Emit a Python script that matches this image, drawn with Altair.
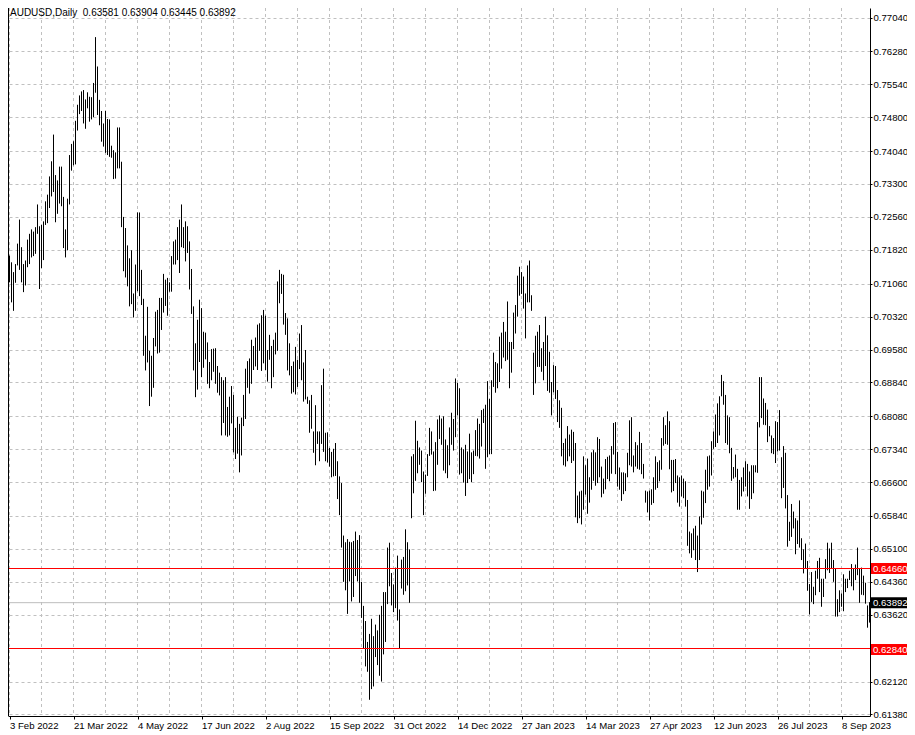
import altair as alt
import pandas as pd

# ---- daily highs / lows (bar 0 = 3 Feb 2022) ----
highs_a = [0.7169, 0.7154, 0.7132, 0.7150, 0.7196, 0.7250, 0.7188, 0.7150, 0.7158, 0.7205,
           0.7218, 0.7228, 0.7223, 0.7233, 0.7284, 0.7235, 0.7238, 0.7246, 0.7291, 0.7306,
           0.7347, 0.7381, 0.7441, 0.7350, 0.7338, 0.7369, 0.7369, 0.7301, 0.7228, 0.7297,
           0.7395, 0.7420, 0.7426, 0.7472, 0.7508, 0.7529, 0.7538, 0.7541, 0.7520, 0.7536,
           0.7526, 0.7525, 0.7557, 0.7660, 0.7594, 0.7519, 0.7494, 0.7466, 0.7494, 0.7476,
           0.7475, 0.7416, 0.7406, 0.7401]
lows_a = [0.7109, 0.7064, 0.7045, 0.7108, 0.7147, 0.7137, 0.7109, 0.7087, 0.7102, 0.7143,
          0.7150, 0.7165, 0.7168, 0.7173, 0.7218, 0.7094, 0.7141, 0.7159, 0.7238, 0.7242,
          0.7276, 0.7302, 0.7312, 0.7244, 0.7263, 0.7286, 0.7280, 0.7186, 0.7165, 0.7181,
          0.7284, 0.7360, 0.7372, 0.7374, 0.7450, 0.7487, 0.7494, 0.7466, 0.7454, 0.7500,
          0.7470, 0.7475, 0.7480, 0.7535, 0.7485, 0.7462, 0.7425, 0.7414, 0.7400, 0.7395,
          0.7391, 0.7389, 0.7341, 0.7342]

highs_b = [0.7457, 0.7457, 0.7380, 0.7256, 0.7231, 0.7192, 0.7163, 0.7181, 0.7084, 0.7149,
           0.7266, 0.7266, 0.7137, 0.7072, 0.6989, 0.7054, 0.6955, 0.6944, 0.6984, 0.7043,
           0.7047, 0.7074, 0.7074, 0.7128, 0.7115, 0.7119, 0.7109, 0.7168, 0.7201, 0.7205,
           0.7233, 0.7250, 0.7284, 0.7233, 0.7246, 0.7235, 0.7201, 0.7139, 0.7055, 0.6972,
           0.7025, 0.7070, 0.7051, 0.6998, 0.6996, 0.6974, 0.6930, 0.6959, 0.6960, 0.6961,
           0.6921, 0.6906, 0.6896, 0.6889, 0.6896]
lows_b = [0.7365, 0.7365, 0.7233, 0.7134, 0.7120, 0.7100, 0.7055, 0.7060, 0.7030, 0.7045,
          0.7089, 0.7078, 0.7058, 0.6944, 0.6911, 0.6929, 0.6831, 0.6852, 0.6872, 0.6965,
          0.6949, 0.6951, 0.7002, 0.7041, 0.7056, 0.7034, 0.7088, 0.7088, 0.7149, 0.7149,
          0.7159, 0.7130, 0.7188, 0.7186, 0.7156, 0.7175, 0.7093, 0.7038, 0.6911, 0.6851,
          0.6868, 0.6930, 0.6896, 0.6917, 0.6936, 0.6881, 0.6871, 0.6889, 0.6908, 0.6881,
          0.6861, 0.6855, 0.6765, 0.6793, 0.6765]

highs_c = [0.6829, 0.6852, 0.6876, 0.6856, 0.6782, 0.6807, 0.6791, 0.6805, 0.6856, 0.6915,
           0.6932, 0.6938, 0.6980, 0.6966, 0.6985, 0.7014, 0.7017, 0.7035, 0.7047, 0.7034,
           0.6957, 0.6991, 0.6966, 0.6980, 0.6996, 0.7111, 0.7137, 0.7128, 0.7126, 0.7040,
           0.7028, 0.6972, 0.6921, 0.6931, 0.6964, 0.6935, 0.6994, 0.7013, 0.6929, 0.6957,
           0.6852, 0.6844, 0.6856, 0.6774, 0.6833, 0.6774, 0.6774, 0.6878, 0.6915, 0.6771,
           0.6772, 0.6737, 0.6728, 0.6735, 0.6748]
lows_c = [0.6762, 0.6765, 0.6792, 0.6727, 0.6712, 0.6724, 0.6682, 0.6720, 0.6786, 0.6802,
          0.6872, 0.6859, 0.6881, 0.6912, 0.6920, 0.6912, 0.6955, 0.6910, 0.6927, 0.6912,
          0.6886, 0.6935, 0.6871, 0.6896, 0.6947, 0.6955, 0.7062, 0.7083, 0.7014, 0.6991,
          0.6911, 0.6900, 0.6859, 0.6862, 0.6857, 0.6874, 0.6914, 0.6889, 0.6841, 0.6846,
          0.6836, 0.6771, 0.6780, 0.6726, 0.6698, 0.6746, 0.6707, 0.6746, 0.6728, 0.6707,
          0.6704, 0.6695, 0.6671, 0.6673, 0.6674]

highs_d = [0.6707, 0.6673, 0.6658, 0.6540, 0.6525, 0.6532, 0.6526, 0.6525, 0.6528, 0.6549,
           0.6530, 0.6541, 0.6436, 0.6382, 0.6348, 0.6301, 0.6319, 0.6353, 0.6314, 0.6340,
           0.6327, 0.6362, 0.6382, 0.6413, 0.6413, 0.6513, 0.6524, 0.6456, 0.6430, 0.6468,
           0.6495, 0.6374, 0.6486, 0.6492, 0.6554, 0.6525, 0.6509, 0.6718, 0.6723, 0.6798,
           0.6753, 0.6738, 0.6731, 0.6684, 0.6677, 0.6723, 0.6782, 0.6774, 0.6729, 0.6750,
           0.6801, 0.6810, 0.6803, 0.6808, 0.6756]
lows_d = [0.6622, 0.6586, 0.6513, 0.6436, 0.6417, 0.6364, 0.6437, 0.6392, 0.6402, 0.6449,
          0.6437, 0.6389, 0.6355, 0.6286, 0.6246, 0.6234, 0.6171, 0.6195, 0.6201, 0.6267,
          0.6249, 0.6225, 0.6212, 0.6273, 0.6301, 0.6386, 0.6426, 0.6383, 0.6368, 0.6377,
          0.6349, 0.6287, 0.6421, 0.6407, 0.6415, 0.6428, 0.6389, 0.6579, 0.6635, 0.6663,
          0.6680, 0.6699, 0.6660, 0.6586, 0.6634, 0.6674, 0.6719, 0.6722, 0.6640, 0.6641,
          0.6699, 0.6757, 0.6744, 0.6686, 0.6680]

highs_e = [0.6743, 0.6783, 0.6816, 0.6802, 0.6893, 0.6883, 0.6871, 0.6738, 0.6734, 0.6744,
           0.6729, 0.6769, 0.6727, 0.6731, 0.6777, 0.6803, 0.6791, 0.6822, 0.6825, 0.6834,
           0.6887, 0.6847, 0.6889, 0.6951, 0.6930, 0.6927, 0.6987, 0.6996, 0.7020, 0.6998,
           0.7066, 0.6975, 0.6975, 0.7041, 0.7058, 0.7124, 0.7144, 0.7132, 0.7122, 0.7084,
           0.7147, 0.7158, 0.7080, 0.6951, 0.6989, 0.6998, 0.7013, 0.6961, 0.6975, 0.7032,
           0.6990, 0.6953, 0.6885, 0.6923, 0.6921]
lows_e = [0.6669, 0.6698, 0.6744, 0.6731, 0.6761, 0.6810, 0.6677, 0.6680, 0.6659, 0.6629,
          0.6658, 0.6667, 0.6660, 0.6678, 0.6719, 0.6718, 0.6713, 0.6740, 0.6793, 0.6690,
          0.6716, 0.6723, 0.6723, 0.6874, 0.6861, 0.6871, 0.6885, 0.6915, 0.6940, 0.6932,
          0.6935, 0.6871, 0.6906, 0.6959, 0.6994, 0.7032, 0.7079, 0.7083, 0.7050, 0.6983,
          0.7064, 0.7064, 0.7045, 0.6856, 0.6882, 0.6919, 0.6919, 0.6908, 0.6889, 0.6921,
          0.6865, 0.6861, 0.6810, 0.6862, 0.6847]

highs_f = [0.6867, 0.6844, 0.6827, 0.6748, 0.6758, 0.6786, 0.6767, 0.6778, 0.6773, 0.6748,
           0.6630, 0.6639, 0.6641, 0.6718, 0.6698, 0.6713, 0.6671, 0.6727, 0.6732, 0.6727,
           0.6761, 0.6757, 0.6695, 0.6668, 0.6712, 0.6717, 0.6720, 0.6741, 0.6793, 0.6795,
           0.6728, 0.6693, 0.6682, 0.6682, 0.6680, 0.6726, 0.6799, 0.6806, 0.6720, 0.6750,
           0.6743, 0.6773, 0.6748, 0.6701, 0.6641, 0.6639, 0.6641, 0.6644, 0.6671, 0.6718,
           0.6705, 0.6709, 0.6759, 0.6806, 0.6788]
lows_f = [0.6795, 0.6782, 0.6718, 0.6698, 0.6695, 0.6707, 0.6718, 0.6703, 0.6708, 0.6581,
          0.6568, 0.6579, 0.6565, 0.6598, 0.6632, 0.6589, 0.6614, 0.6643, 0.6663, 0.6652,
          0.6658, 0.6671, 0.6626, 0.6634, 0.6644, 0.6667, 0.6662, 0.6679, 0.6722, 0.6678,
          0.6650, 0.6643, 0.6618, 0.6633, 0.6640, 0.6671, 0.6698, 0.6695, 0.6682, 0.6695,
          0.6690, 0.6688, 0.6678, 0.6668, 0.6614, 0.6592, 0.6574, 0.6609, 0.6613, 0.6643,
          0.6647, 0.6662, 0.6688, 0.6742, 0.6746]

highs_g = [0.6819, 0.6797, 0.6710, 0.6710, 0.6712, 0.6675, 0.6671, 0.6675, 0.6668, 0.6662,
           0.6620, 0.6549, 0.6545, 0.6556, 0.6562, 0.6540, 0.6583, 0.6641, 0.6639, 0.6688,
           0.6718, 0.6720, 0.6752, 0.6774, 0.6812, 0.6837, 0.6853, 0.6901, 0.6887, 0.6856,
           0.6810, 0.6806, 0.6737, 0.6694, 0.6722, 0.6690, 0.6665, 0.6671, 0.6693, 0.6707,
           0.6701, 0.6684, 0.6698, 0.6698, 0.6698, 0.6795, 0.6896, 0.6896, 0.6848, 0.6838,
           0.6823, 0.6786, 0.6765, 0.6759, 0.6797]
lows_g = [0.6744, 0.6689, 0.6637, 0.6640, 0.6658, 0.6614, 0.6605, 0.6628, 0.6624, 0.6605,
          0.6517, 0.6500, 0.6490, 0.6507, 0.6485, 0.6458, 0.6485, 0.6565, 0.6580, 0.6613,
          0.6643, 0.6650, 0.6675, 0.6735, 0.6739, 0.6748, 0.6765, 0.6853, 0.6834, 0.6748,
          0.6744, 0.6725, 0.6663, 0.6668, 0.6671, 0.6598, 0.6598, 0.6628, 0.6639, 0.6650,
          0.6628, 0.6600, 0.6622, 0.6635, 0.6682, 0.6681, 0.6783, 0.6804, 0.6789, 0.6788,
          0.6750, 0.6763, 0.6725, 0.6723, 0.6703]

highs_h = [0.6795, 0.6822, 0.6716, 0.6741, 0.6726, 0.6631, 0.6571, 0.6611, 0.6594, 0.6579,
           0.6574, 0.6619, 0.6534, 0.6509, 0.6522, 0.6483, 0.6431, 0.6458, 0.6425, 0.6461,
           0.6483, 0.6490, 0.6443, 0.6443, 0.6487, 0.6524, 0.6511, 0.6524, 0.6485, 0.6466,
           0.6397, 0.6417, 0.6410, 0.6453, 0.6443, 0.6443, 0.6461, 0.6476, 0.6466, 0.6475,
           0.6513, 0.6466, 0.6468, 0.6450, 0.6434, 0.6383, 0.63904]
lows_h = [0.6729, 0.6731, 0.6624, 0.6647, 0.6601, 0.6515, 0.6528, 0.6537, 0.6556, 0.6498,
          0.6521, 0.6513, 0.6485, 0.6455, 0.6466, 0.6416, 0.6363, 0.6391, 0.6386, 0.6406,
          0.6443, 0.6413, 0.6380, 0.6402, 0.6443, 0.6462, 0.6456, 0.6466, 0.6436, 0.6358,
          0.6358, 0.6368, 0.6380, 0.6370, 0.6413, 0.6422, 0.6440, 0.6426, 0.6417, 0.6440,
          0.6451, 0.6389, 0.6407, 0.6406, 0.6387, 0.6333, 0.63445]

highs = highs_a + highs_b + highs_c + highs_d + highs_e + highs_f + highs_g + highs_h
lows = lows_a + lows_b + lows_c + lows_d + lows_e + lows_f + lows_g + lows_h
assert len(highs) == len(lows)

date_labels = ["3 Feb 2022", "21 Mar 2022", "4 May 2022", "17 Jun 2022", "2 Aug 2022",
               "15 Sep 2022", "31 Oct 2022", "14 Dec 2022", "27 Jan 2023", "14 Mar 2023",
               "27 Apr 2023", "12 Jun 2023", "26 Jul 2023", "8 Sep 2023"]
bars_per_label = 32
bars_per_grid = 16

price_ticks = [0.77040, 0.76280, 0.75540, 0.74800, 0.74040, 0.73300, 0.72560, 0.71820,
               0.71060, 0.70320, 0.69580, 0.68840, 0.68080, 0.67340, 0.66600, 0.65840,
               0.65100, 0.64360, 0.63620, 0.62880, 0.62120, 0.61380]
hidden_tick = 0.62880   # covered by the 0.62840 level tag
upper_level = 0.64660
lower_level = 0.62840
last_price = 0.63892
header = "AUDUSD,Daily\u00a0\u00a00.63581 0.63904 0.63445 0.63892"

n = len(highs)
W = 2 * n          # 2 px per daily bar
H = 708
RIGHT, BOTTOM = 37, 18
FONT = "Liberation Sans"
GRID = "#c0c0c0"

bars = pd.DataFrame({"i": range(n), "hi": highs, "lo": lows})
xscale = alt.Scale(domain=[-0.75, n - 0.75], nice=False, zero=False)
yscale = alt.Scale(domain=[0.613459, 0.772542], nice=False, zero=False)

hide_test = "abs(datum.value-%f)<0.00001" % hidden_tick
label_pos = [k * bars_per_label for k in range(len(date_labels))]
label_js = "[" + ",".join("'%s'" % s for s in date_labels) + "]"
xaxis = alt.Axis(values=label_pos, labelExpr=label_js + "[round(datum.value/%d)]" % bars_per_label,
                 labelAlign="left", labelFlush=False, labelOverlap=False, grid=False,
                 tickSize=3, tickColor="black", domainColor="black", labelPadding=1,
                 labelFont=FONT, labelFontSize=9.6, labelColor="black", title=None)
yaxis = alt.Axis(orient="right", values=price_ticks, format=".5f",
                 labelExpr=hide_test + " ? '' : datum.label",
                 grid=True, gridColor=GRID, gridDash=[3, 3],
                 gridOpacity={"condition": {"test": hide_test, "value": 0}, "value": 1},
                 tickSize=2, tickColor="black",
                 domainColor="black", labelPadding=1, labelFont=FONT, labelFontSize=9.6,
                 labelColor="black", labelOverlap=False, labelFlush=False, title=None)

X = lambda f: alt.X(f, scale=xscale, axis=xaxis)
Y = lambda f: alt.Y(f, scale=yscale, axis=yaxis)

vgrid = alt.Chart(pd.DataFrame({"i": list(range(0, n, bars_per_grid))})).mark_rule(
    color=GRID, strokeDash=[3, 3], strokeWidth=1).encode(
    x=X("i:Q"), y=alt.value(0), y2=alt.value(H))

bid_line = alt.Chart(pd.DataFrame({"p": [last_price]})).mark_rule(
    color="#bdbdbd", strokeWidth=1).encode(y=Y("p:Q"))

ohlc = alt.Chart(bars).mark_rule(color="black", strokeWidth=1).encode(
    x=X("i:Q"), y=Y("lo:Q"), y2="hi:Q")

level_up = alt.Chart(pd.DataFrame({"p": [upper_level]})).mark_rule(
    stroke="#ff0000", strokeWidth=1).encode(y=Y("p:Q"))
level_lo = alt.Chart(pd.DataFrame({"p": [lower_level]})).mark_rule(
    stroke="#ff0000", strokeWidth=1, yOffset=-1).encode(y=Y("p:Q"))

left_frame = alt.Chart(pd.DataFrame({"p": [0]})).mark_rule(color="black").encode(
    x=alt.value(0.5), y=alt.value(0), y2=alt.value(H))

tags = pd.DataFrame({"p": [upper_level, lower_level, last_price],
                     "c": ["#ff0000", "#ff0000", "black"]})
tag_boxes = alt.Chart(tags).transform_calculate(
    b1="datum.p - 0.00123", b2="datum.p + 0.00123").mark_rect().encode(
    x=alt.value(W + 1), x2=alt.value(W + RIGHT), y=Y("b1:Q"), y2="b2:Q",
    color=alt.Color("c:N", scale=None))
tag_text = alt.Chart(tags).transform_calculate(t="format(datum.p, '.5f')").mark_text(
    align="left", baseline="middle", color="white", font=FONT, fontSize=9.6).encode(
    x=alt.value(W + 3), y=Y("p:Q"), text="t:N")

head = alt.Chart(pd.DataFrame({"t": [header]})).mark_text(
    align="left", baseline="middle", color="black", font=FONT, fontSize=10).encode(
    x=alt.value(2), y=alt.value(5), text="t:N")

chart = alt.layer(vgrid, bid_line, ohlc, level_up, level_lo, left_frame,
                  tag_boxes, tag_text, head).properties(
    width=W, height=H, background="white",
    autosize=alt.AutoSizeParams(type="none"),
    padding={"left": 0, "top": 0, "right": RIGHT, "bottom": BOTTOM}
).configure_view(stroke=None)

chart.save("out.html", embed_options={"renderer": "svg", "actions": False})
